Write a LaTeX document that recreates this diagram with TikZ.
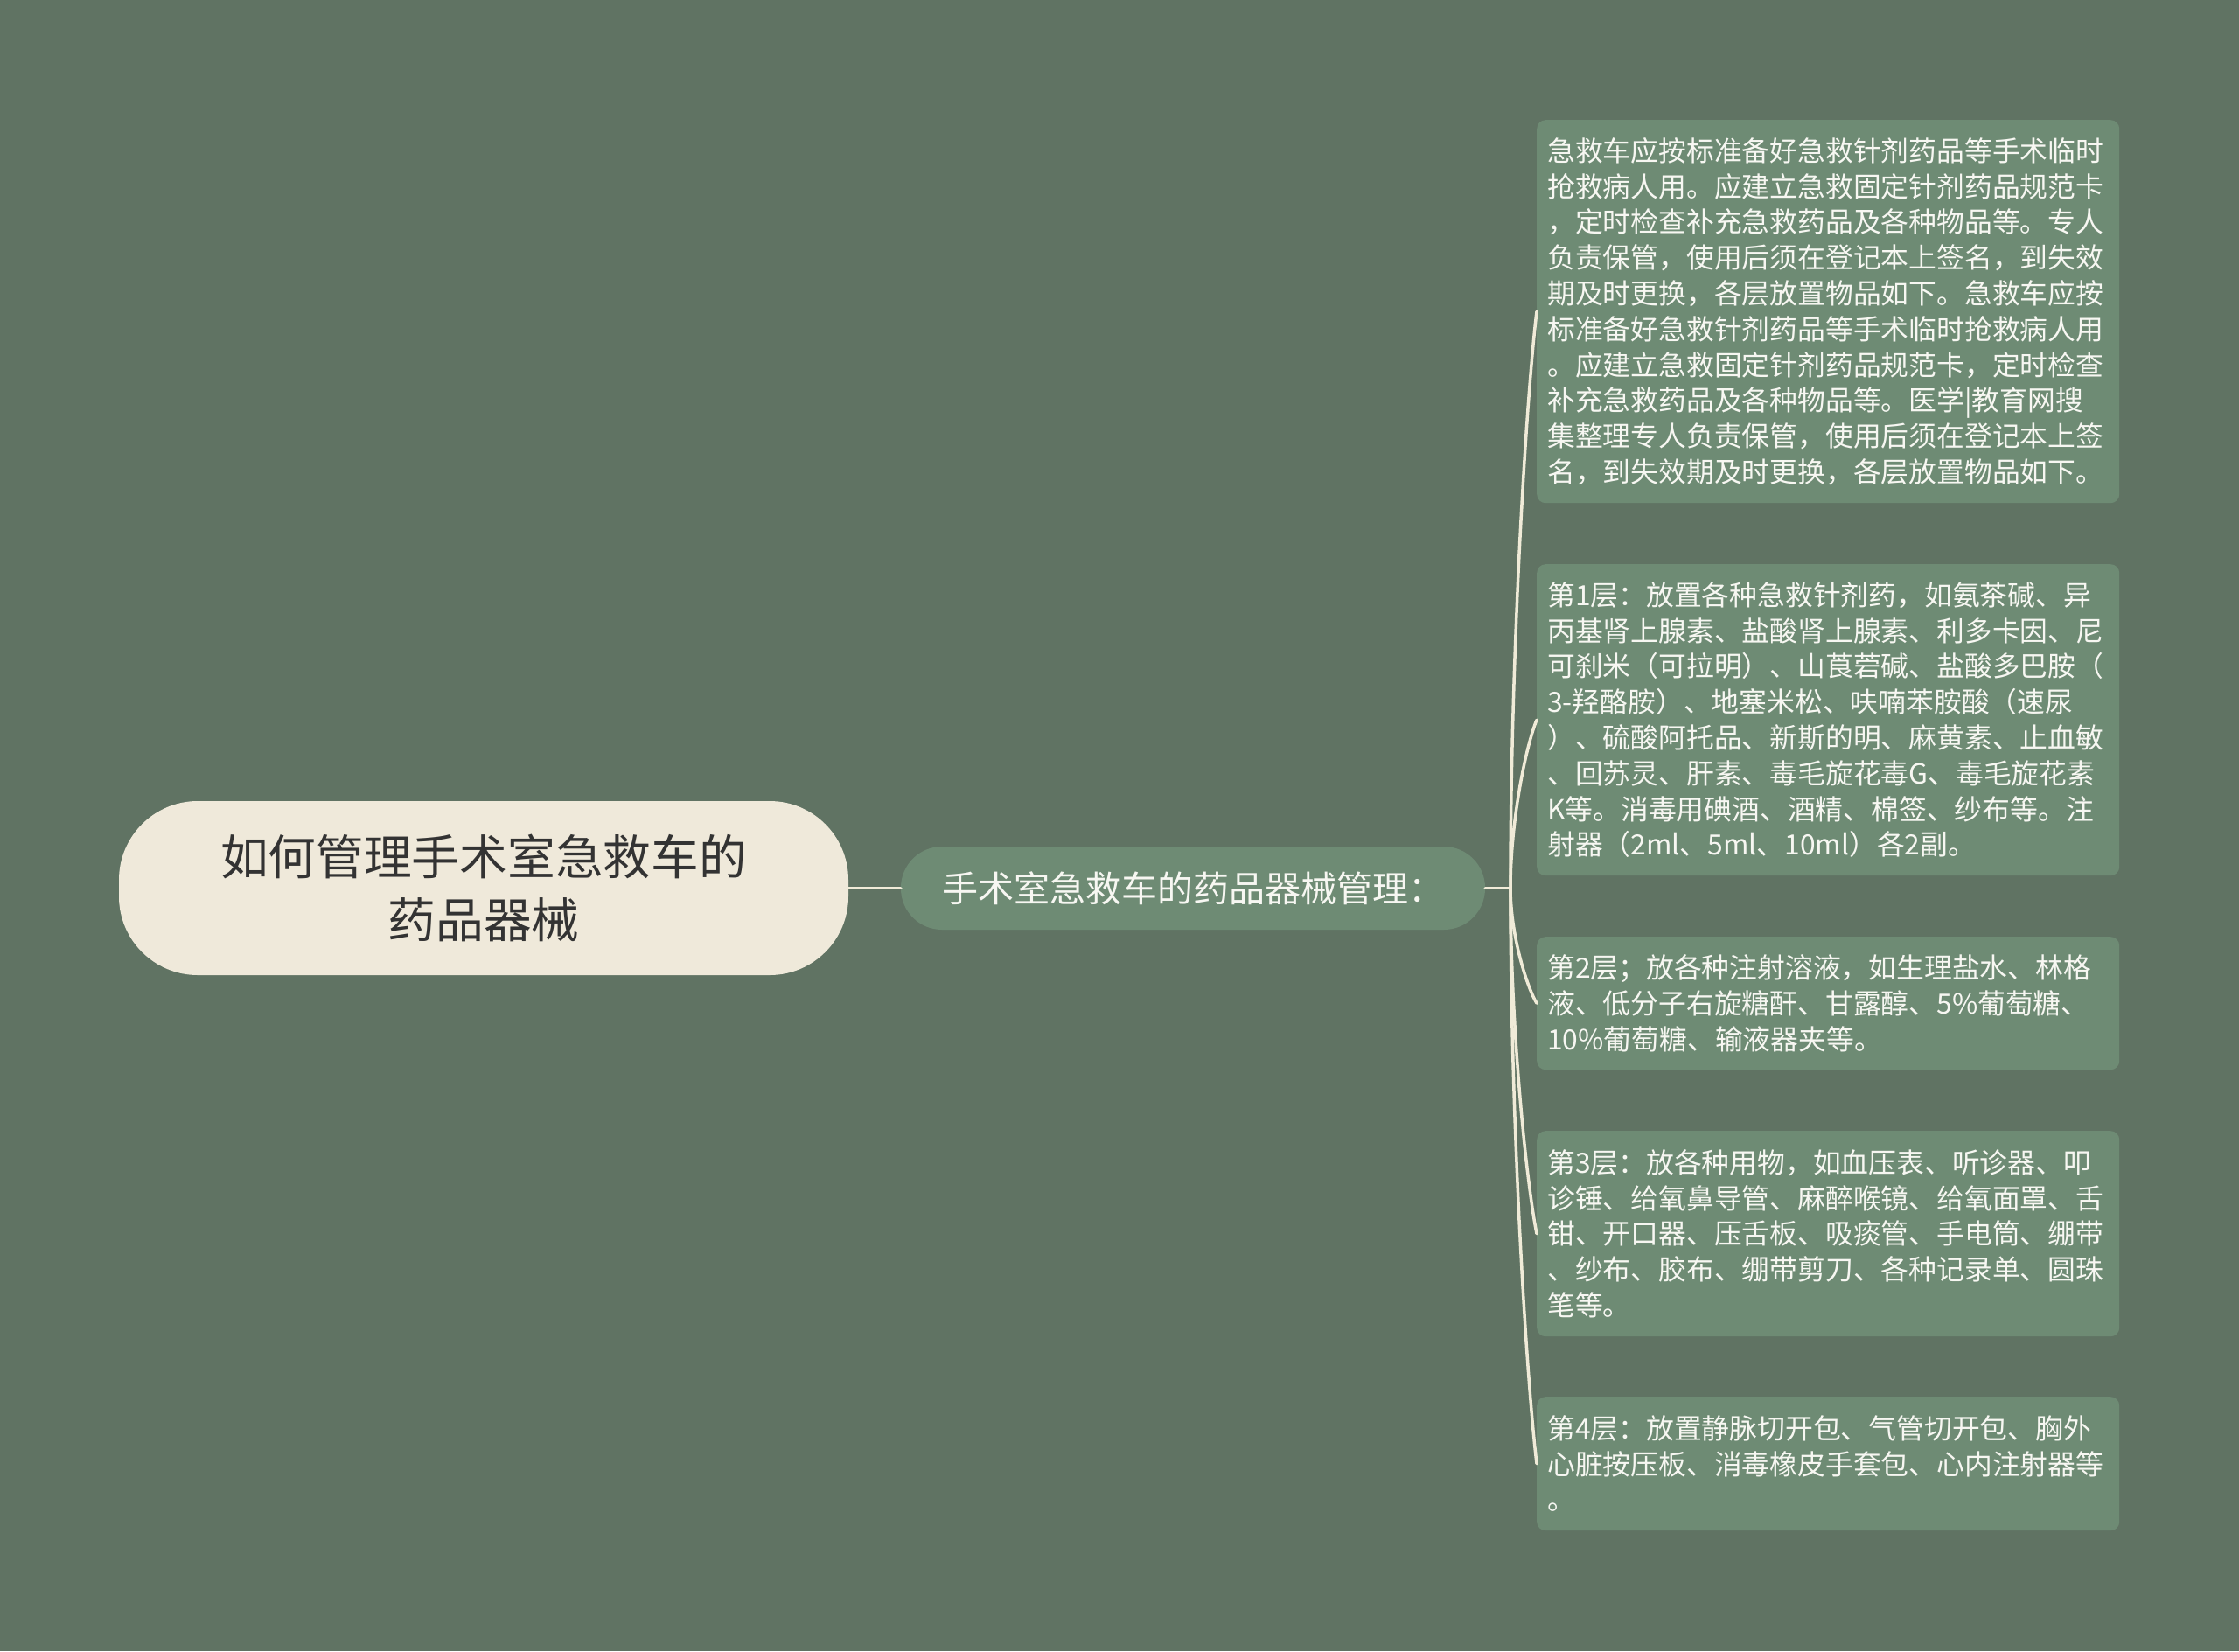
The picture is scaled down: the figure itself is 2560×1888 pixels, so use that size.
\documentclass[tikz,border=0pt]{standalone}
\usepackage{fontspec}
\setmainfont{Noto Sans CJK SC}
\definecolor{bg}{HTML}{607363}
\definecolor{leaffill}{HTML}{6E8B74}
\definecolor{rootfill}{HTML}{EFE9DA}
\definecolor{linec}{HTML}{F0EBD8}
\definecolor{roottext}{HTML}{333333}
\definecolor{leaftext}{HTML}{F7F7F2}
\begin{document}
\begin{tikzpicture}[x=1pt,y=-1pt,
  rootbox/.style={fill=rootfill, rounded corners=90pt, text=roottext, align=center,
    font=\fontsize{54.7}{72}\selectfont, minimum width=834pt, minimum height=199pt, inner sep=0pt},
  midbox/.style={fill=leaffill, rounded corners=47pt, text=leaftext, align=center,
    font=\fontsize{41}{48}\selectfont, minimum width=668pt, minimum height=95pt, inner sep=0pt},
  leafbox/.style={fill=leaffill, rounded corners=10pt, text=leaftext, align=left,
    font=\fontsize{31.8}{40.8}\selectfont, text width=642pt, inner xsep=12pt, inner ysep=0pt,
    anchor=north west},
  conn/.style={draw=linec, line width=3.5pt, line cap=round}
]
\fill[bg] (0,0) rectangle (2560,1888);
\useasboundingbox (0,0) rectangle (2560,1888);

\node[rootbox] (root) at (553,1015.5) {如何管理手术室急救车的\\药品器械};
\node[midbox] (mid) at (1364,1015.5) {手术室急救车的药品器械管理：};

\node[leafbox, minimum height=438pt] (l1) at (1757,137) {急救车应按标准备好急救针剂药品等手术临时\\抢救病人用。应建立急救固定针剂药品规范卡\\，定时检查补充急救药品及各种物品等。专人\\负责保管，使用后须在登记本上签名，到失效\\期及时更换，各层放置物品如下。急救车应按\\标准备好急救针剂药品等手术临时抢救病人用\\。应建立急救固定针剂药品规范卡，定时检查\\补充急救药品及各种物品等。医学|教育网搜\\集整理专人负责保管，使用后须在登记本上签\\名，到失效期及时更换，各层放置物品如下。};

\node[leafbox, minimum height=356pt] (l2) at (1757,645) {第1层：放置各种急救针剂药，如氨茶碱、异\\丙基肾上腺素、盐酸肾上腺素、利多卡因、尼\\可刹米（可拉明）、山莨菪碱、盐酸多巴胺（\\3-羟酪胺）、地塞米松、呋喃苯胺酸（速尿\\）、硫酸阿托品、新斯的明、麻黄素、止血敏\\、回苏灵、肝素、毒毛旋花毒G、毒毛旋花素\\K等。消毒用碘酒、酒精、棉签、纱布等。注\\射器（2ml、5ml、10ml）各2副。};

\node[leafbox, minimum height=152pt] (l3) at (1757,1071) {第2层；放各种注射溶液，如生理盐水、林格\\液、低分子右旋糖酐、甘露醇、5\%葡萄糖、\\10\%葡萄糖、输液器夹等。};

\node[leafbox, minimum height=235pt] (l4) at (1757,1293) {第3层：放各种用物，如血压表、听诊器、叩\\诊锤、给氧鼻导管、麻醉喉镜、给氧面罩、舌\\钳、开口器、压舌板、吸痰管、手电筒、绷带\\、纱布、胶布、绷带剪刀、各种记录单、圆珠\\笔等。};

\node[leafbox, minimum height=153pt] (l5) at (1757,1597) {第4层：放置静脉切开包、气管切开包、胸外\\心脏按压板、消毒橡皮手套包、心内注射器等\\。};

\coordinate (t) at (1727,1015.5);
\draw[conn] (root.east) -- (mid.west);
\draw[conn] (mid.east) -- (t);
\draw[conn] (t) .. controls (1727,751) and (1745,455) .. (l1.west);
\draw[conn] (t) .. controls (1727,938) and (1745,852) .. (l2.west);
\draw[conn] (t) .. controls (1727,1068) and (1745,1127) .. (l3.west);
\draw[conn] (t) .. controls (1727,1173) and (1745,1351) .. (l4.west);
\draw[conn] (t) .. controls (1727,1278) and (1745,1574) .. (l5.west);
\end{tikzpicture}
\end{document}
